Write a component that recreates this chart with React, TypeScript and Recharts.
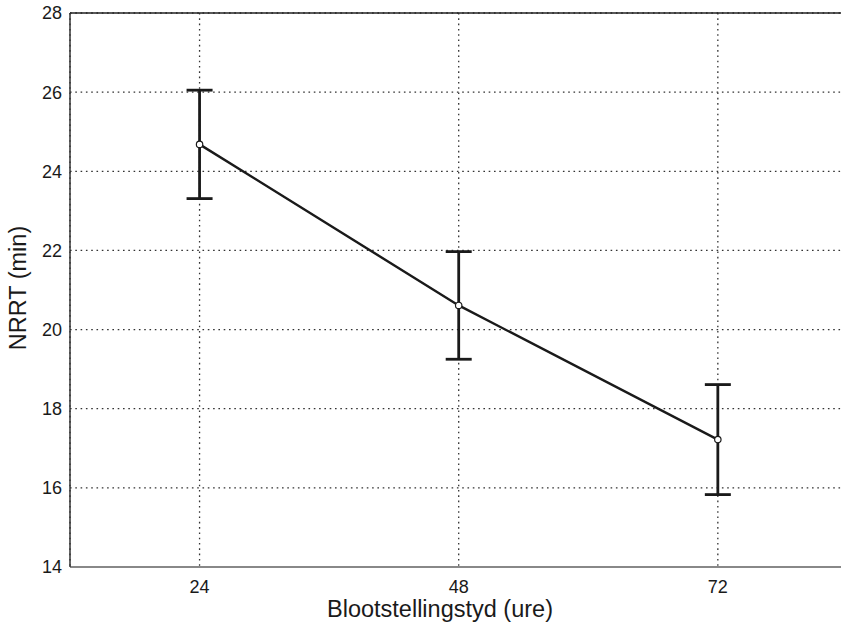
import React from "react";
import {
  ComposedChart,
  Line,
  XAxis,
  YAxis,
  CartesianGrid,
  ErrorBar,
  ReferenceLine,
  Label,
} from "recharts";

// exposure time (hours) vs NRRT (min), with error bars
const hours = [24, 48, 72];
const nrrt = [24.68, 20.61, 17.22];
const nrrtErr = [1.37, 1.36, 1.39];

const xTicks = [24, 48, 72];
const yTicks = [14, 16, 18, 20, 22, 24, 26, 28];

const data = hours.map((h, i) => ({ hours: h, nrrt: nrrt[i], err: nrrtErr[i] }));

const FONT = '"Liberation Sans", Arial, Helvetica, sans-serif';

export default function App() {
  return (
    <div
      style={{
        position: "fixed",
        left: 0,
        top: 0,
        width: 841,
        height: 633,
        overflow: "hidden",
        background: "#fff",
        fontFamily: FONT,
      }}
    >
      <ComposedChart
        width={880}
        height={633}
        data={data}
        margin={{ top: 13, right: 11, left: 0, bottom: 0 }}
      >
        <CartesianGrid stroke="#333" strokeDasharray="1.6 3.7" strokeWidth={1.3} />
        <XAxis
          dataKey="hours"
          type="number"
          domain={[12, 86]}
          ticks={xTicks}
          height={66}
          tickLine={false}
          tickSize={8}
          tickMargin={5}
          axisLine={{ stroke: "#888", strokeWidth: 2 }}
          tick={{ fontSize: 18, fill: "#1a1a1a", fontFamily: FONT }}
        >
          <Label
            content={() => (
              <text
                x={440}
                y={617}
                textAnchor="middle"
                fontSize={23.5}
                fill="#1a1a1a"
                fontFamily={FONT}
              >
                Blootstellingstyd (ure)
              </text>
            )}
          />
        </XAxis>
        <YAxis
          type="number"
          domain={[14, 28]}
          ticks={yTicks}
          width={70}
          tickLine={false}
          tickSize={6}
          tickMargin={2}
          axisLine={{ stroke: "#333", strokeWidth: 1.5 }}
          tick={{ fontSize: 18, fill: "#1a1a1a", fontFamily: FONT }}
        >
          <Label
            content={() => (
              <text
                x={26}
                y={288}
                transform="rotate(-90 26 288)"
                textAnchor="middle"
                fontSize={23.5}
                fill="#1a1a1a"
                fontFamily={FONT}
              >
                NRRT (min)
              </text>
            )}
          />
        </YAxis>
        <ReferenceLine y={28} stroke="#222" strokeWidth={1.5} />
        <Line
          dataKey="nrrt"
          stroke="#1a1a1a"
          strokeWidth={2.4}
          dot={{ r: 3.2, fill: "#fff", stroke: "#1a1a1a", strokeWidth: 1.2 }}
          activeDot={false}
          isAnimationActive={false}
        >
          <ErrorBar
            dataKey="err"
            direction="y"
            width={13}
            stroke="#1a1a1a"
            strokeWidth={2.8}
            isAnimationActive={false}
          />
        </Line>
      </ComposedChart>
    </div>
  );
}
